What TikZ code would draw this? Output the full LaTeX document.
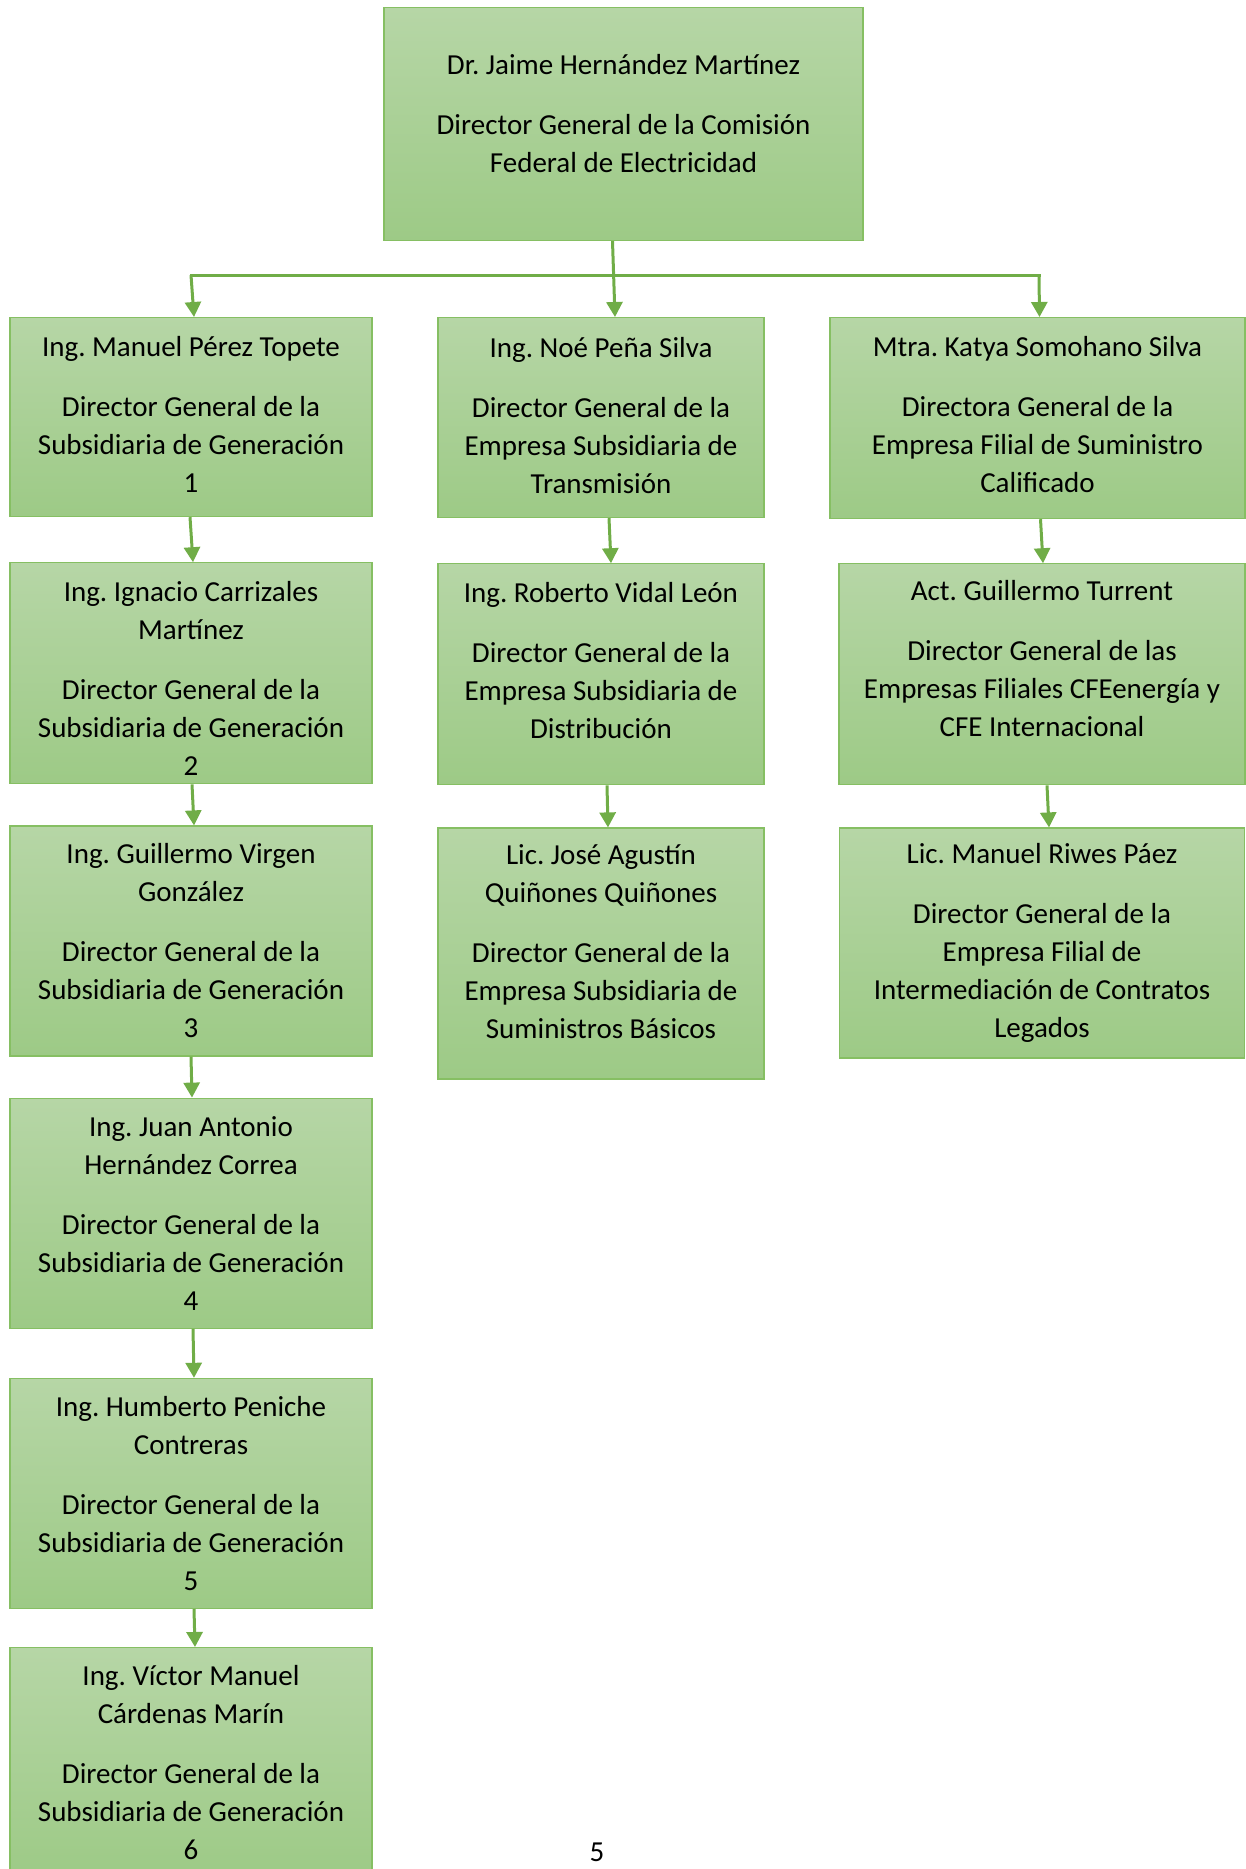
\documentclass[tikz,border=0pt]{standalone}
\usepackage{fontspec}
\setmainfont{Carlito}
\usetikzlibrary{positioning}
\usetikzlibrary{arrows.meta}
\definecolor{boxtop}{RGB}{182,214,166}
\definecolor{boxbot}{RGB}{157,202,134}
\definecolor{boxline}{RGB}{134,191,99}
\definecolor{linkgreen}{RGB}{112,173,71}
\frenchspacing

\begin{document}
\begin{tikzpicture}[
  x=1pt, y=-1pt,
  orgbox/.style={draw=boxline,line width=1.2pt,top color=boxtop,bottom color=boxbot,
    align=center,inner sep=0pt,font=\fontsize{29}{38}\selectfont},
  genbox/.style={orgbox,minimum width=362pt,minimum height=230pt},
  midbox/.style={orgbox,minimum width=326pt},
  link/.style={draw=linkgreen,line width=3pt},
  arr/.style={link,-{Triangle[length=15pt,width=16pt]}}
]
\useasboundingbox (0,0) rectangle (1246,1869);

% top
\node[orgbox,minimum width=479pt,minimum height=233pt,text depth=22pt,anchor=north] (dir) at (623.5,7)
  {Dr. Jaime Hernández Martínez\\[22pt]Director General de la Comisión\\Federal de Electricidad};

% generacion
\node[genbox,minimum height=199pt,text depth=5pt,anchor=north] (gen1) at (191,317)
  {Ing. Manuel Pérez Topete\\[22pt]Director General de la\\Subsidiaria de Generación\\1};
\node[genbox,minimum height=221pt,below=45pt of gen1] (gen2)
  {\rule{0pt}{30pt}Ing. Ignacio Carrizales\\Martínez\\[22pt]Director General de la\\Subsidiaria de Generación\\2};
\node[genbox,below=41pt of gen2] (gen3)
  {Ing. Guillermo Virgen\\González\\[22pt]Director General de la\\Subsidiaria de Generación\\3};
\node[genbox,below=41pt of gen3] (gen4)
  {Ing. Juan Antonio\\Hernández Correa\\[22pt]Director General de la\\Subsidiaria de Generación\\4};
\node[genbox,below=49pt of gen4] (gen5)
  {Ing. Humberto Peniche\\Contreras\\[22pt]Director General de la\\Subsidiaria de Generación\\5};
\node[genbox,below=38pt of gen5] (gen6)
  {Ing. Víctor Manuel\\Cárdenas Marín\\[22pt]Director General de la\\Subsidiaria de Generación\\6};

% transmision / distribucion
\node[midbox,minimum height=200pt,text depth=5pt,anchor=north] (tra) at (601,317)
  {Ing. Noé Peña Silva\\[22pt]Director General de la\\Empresa Subsidiaria de\\Transmisión};
\node[midbox,minimum height=221pt,text depth=28pt,below=45pt of tra] (dis)
  {Ing. Roberto Vidal León\\[22pt]Director General de la\\Empresa Subsidiaria de\\Distribución};
\node[midbox,minimum height=251pt,text depth=24pt,below=42pt of dis] (sum)
  {Lic. José Agustín\\Quiñones Quiñones\\[22pt]Director General de la\\Empresa Subsidiaria de\\Suministros Básicos};

% filiales
\node[orgbox,minimum width=415pt,minimum height=201pt,text depth=7pt,anchor=north] (cal) at (1037.5,317)
  {Mtra. Katya Somohano Silva\\[22pt]Directora General de la\\Empresa Filial de Suministro\\Calificado};
\node[orgbox,minimum width=406pt,minimum height=221pt,text depth=32pt,below=44pt of cal.south east,anchor=north east] (ifi)
  {Act. Guillermo Turrent\\[22pt]Director General de las\\Empresas Filiales CFEenergía y\\CFE Internacional};
\node[orgbox,minimum width=405pt,minimum height=230pt,below=42pt of ifi] (leg)
  {Lic. Manuel Riwes Páez\\[22pt]Director General de la\\Empresa Filial de\\Intermediación de Contratos\\Legados};

\node[font=\fontsize{29}{38}\selectfont] (pag) at (597,1852) {5};

\coordinate (barL) at (191,275);
\coordinate (barR) at (1039,275);
\draw[link,line cap=rect] (barL) -- (barR);

\path (barL) edge[arr] ([xshift=3pt]gen1.north)
  (barR) edge[arr] ([xshift=2pt]cal.north)
  ([xshift=-11pt]dir.south) edge[arr] ([xshift=14pt]tra.north)
  ([xshift=-1pt]gen1.south) edge[arr] ([xshift=2pt]gen2.north)
  ([xshift=1pt]gen2.south) edge[arr] ([xshift=3pt]gen3.north)
  (gen3.south) edge[arr] ([xshift=1pt]gen4.north)
  ([xshift=2pt]gen4.south) edge[arr] ([xshift=3pt]gen5.north)
  ([xshift=3pt]gen5.south) edge[arr] ([xshift=4pt]gen6.north)
  ([xshift=8pt]tra.south) edge[arr] ([xshift=10pt]dis.north)
  ([xshift=6pt]dis.south) edge[arr] ([xshift=7pt]sum.north)
  ([xshift=3pt]cal.south) edge[arr] ([xshift=1pt]ifi.north)
  ([xshift=5pt]ifi.south) edge[arr] ([xshift=7pt]leg.north)
;

\end{tikzpicture}
\end{document}
